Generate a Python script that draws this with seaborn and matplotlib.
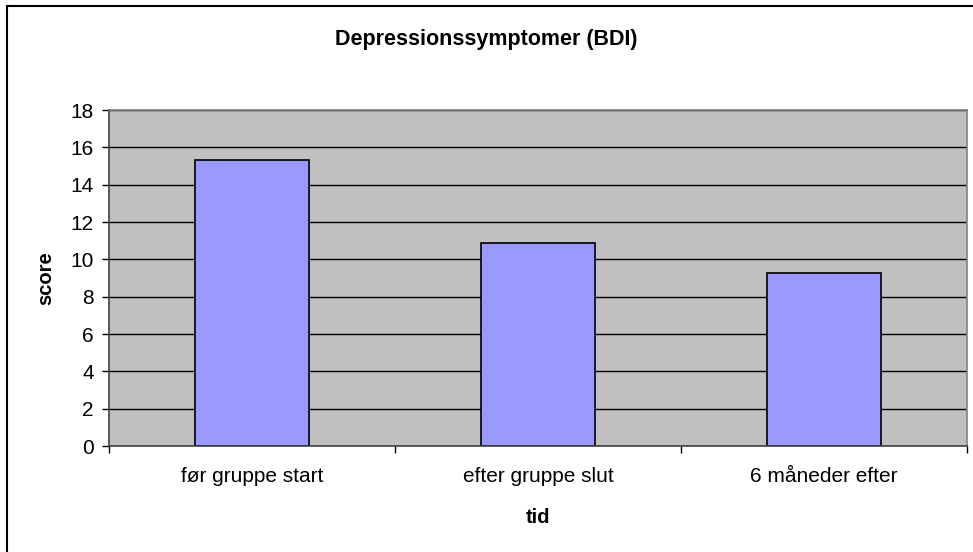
import matplotlib
matplotlib.use("Agg")
import matplotlib.pyplot as plt
import seaborn as sns
import pandas as pd
from matplotlib.patches import Rectangle

categories = ["før gruppe start", "efter gruppe slut", "6 måneder efter"]
values = [15.3, 10.86, 9.25]
yticks = [0, 2, 4, 6, 8, 10, 12, 14, 16, 18]

sns.set_style("white")
plt.rcParams['font.family'] = ['Liberation Sans', 'DejaVu Sans']
plt.rcParams['text.color'] = 'black'
plt.rcParams['axes.labelcolor'] = 'black'
plt.rcParams['xtick.color'] = 'black'
plt.rcParams['ytick.color'] = 'black'

df = pd.DataFrame({"tid": categories, "score": values})

fig = plt.figure(figsize=(9.73, 5.52), dpi=100)
W, H = 973, 552
ax = fig.add_axes([109 / W, 1 - 446 / H, (967 - 109) / W, (446 - 110) / H])
ax.set_facecolor("#C0C0C0")
ax.set_axisbelow(True)

sns.barplot(data=df, x="tid", y="score", ax=ax, color="#9999FF", width=0.40,
            edgecolor="black", linewidth=1.2, saturation=1)

ax.set_ylim(0, 18)
ax.set_xlim(-0.5, 2.5)
ax.set_yticks(yticks)
ax.set_yticklabels([str(t) for t in yticks])
ax.yaxis.grid(True, color="black", linewidth=1)
ax.xaxis.grid(False)

ax.set_xticks([-0.5, 0.5, 1.5, 2.5])
ax.set_xticklabels([])
ax.set_xticks([0, 1, 2], minor=True)
ax.set_xticklabels(categories, minor=True)
ax.tick_params(axis="x", which="minor", length=0, pad=15, labelsize=15)
ax.tick_params(axis="x", which="major", length=5, width=1, direction="out", color="black", bottom=True)
ax.tick_params(axis="y", length=5, width=1, direction="out", color="black", left=True, pad=6, labelsize=15)

for s in ["left", "bottom"]:
    ax.spines[s].set_color("#404040")
    ax.spines[s].set_linewidth(1.2)
for s in ["top", "right"]:
    ax.spines[s].set_visible(True)
    ax.spines[s].set_color("#808080")
    ax.spines[s].set_linewidth(1.2)

ax.set_xlabel("tid", fontsize=14.5, fontweight="bold", labelpad=16)
ax.set_ylabel("score", fontsize=14.5, fontweight="bold", labelpad=11)

fig.text(0.5, 1 - 40 / H, "Depressionssymptomer (BDI)", ha="center", va="center",
         fontsize=15.5, fontweight="bold")

fig.patches.append(Rectangle((7 / W, -0.1), 1.2, (H - 5.5) / H + 0.1,
                             transform=fig.transFigure, fill=False,
                             edgecolor="black", linewidth=1.5))

fig.savefig("out.png", dpi=100)
